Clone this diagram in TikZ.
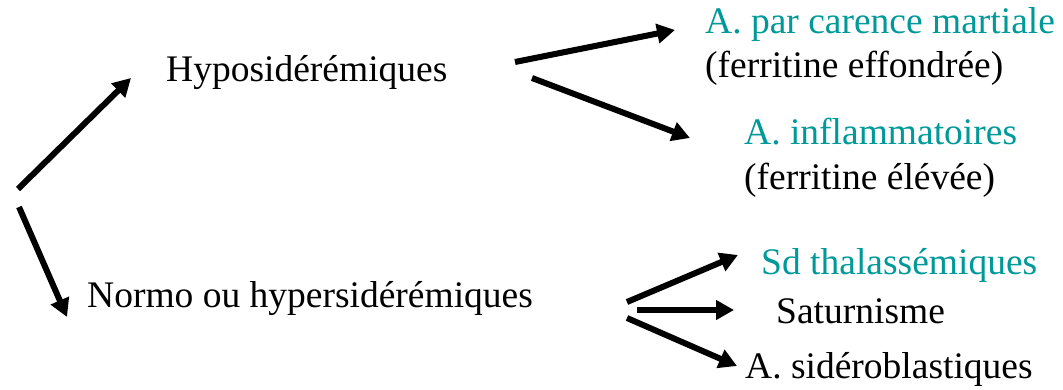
\documentclass[tikz,border=0pt]{standalone}
\usepackage{fontspec}
\setmainfont{Liberation Serif}
\usetikzlibrary{arrows.meta}
\definecolor{tealtxt}{RGB}{0,153,153}
\begin{document}
\begin{tikzpicture}[x=1pt,y=-1pt,
  lbl/.style={anchor=base west,inner sep=0pt,font=\fontsize{37.5}{44}\selectfont},
  hl/.style={lbl,text=tealtxt},
  arr/.style={line width=6pt,-{Triangle[length=18pt,width=19pt]}}]
\useasboundingbox (0,0) rectangle (1063,390);
% labels
\node[lbl] (hypo) at (166,82) {Hyposidérémiques};
\node[lbl] (normo) at (87,307) {Normo ou hypersidérémiques};
\node[hl] (carence) at (705,34) {A. par carence martiale};
\node[lbl] (effond) at (705,78) {(ferritine effondrée)};
\node[hl] (inflam) at (744,145) {A. inflammatoires};
\node[lbl] (elevee) at (744,190) {(ferritine élévée)};
\node[hl] (thal) at (761,274) {Sd thalassémiques};
\node[lbl] (satur) at (776,323) {Saturnisme};
\node[lbl] (sidero) at (745,378) {A. sidéroblastiques};
% arrow endpoints
\coordinate (s1) at (18,189);   \coordinate (t1) at (131,78);
\coordinate (s2) at (19,207);   \coordinate (t2) at (67,317);
\coordinate (s3) at (515,62);   \coordinate (t3) at (675,30);
\coordinate (s4) at (532,78);   \coordinate (t4) at (690,138);
\coordinate (s5) at (627,302);  \coordinate (t5) at (738,255);
\coordinate (s6) at (637,310);  \coordinate (t6) at (734,310);
\coordinate (s7) at (627,318);  \coordinate (t7) at (737,366);
\draw[arr] (s1) -- (t1);
\draw[arr] (s2) -- (t2);
\draw[arr] (s3) -- (t3);
\draw[arr] (s4) -- (t4);
\draw[arr] (s5) -- (t5);
\draw[arr] (s6) -- (t6);
\draw[arr] (s7) -- (t7);
\end{tikzpicture}
\end{document}
